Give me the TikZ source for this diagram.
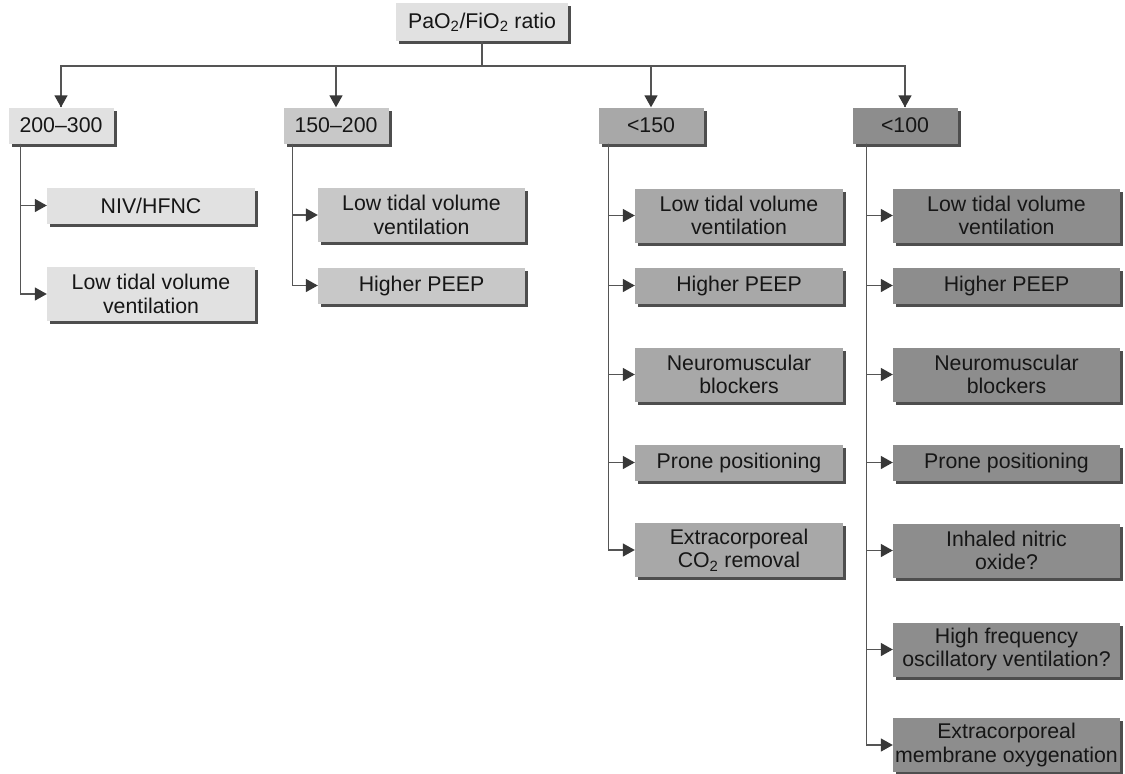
\documentclass[tikz,border=0pt]{standalone}
\usepackage{fontspec}
\setmainfont{Liberation Sans}
\usetikzlibrary{arrows.meta,shadows}
\definecolor{fillA}{HTML}{E1E1E1}
\definecolor{fillB}{HTML}{C8C8C8}
\definecolor{fillC}{HTML}{A8A8A8}
\definecolor{fillD}{HTML}{8D8D8D}
\definecolor{shd}{HTML}{4E4E4E}
\definecolor{txt}{HTML}{161616}
\definecolor{lin}{HTML}{555555}
\definecolor{tip}{HTML}{383838}
\begin{document}
\begin{tikzpicture}[x=1pt,y=-1pt,
  box/.style={draw=none, align=center, inner sep=0pt, minimum height=36pt,
    text=txt, font=\fontsize{21.3}{23.5}\selectfont,
    drop shadow={shadow xshift=3pt,shadow yshift=-3pt,fill=shd,opacity=1}},
  two/.style={minimum height=54pt},
  lvl/.style={minimum width=105pt},
  colA/.style={box, fill=fillA, minimum width=208pt},
  colB/.style={box, fill=fillB, minimum width=207pt},
  colC/.style={box, fill=fillC, minimum width=208pt},
  colD/.style={box, fill=fillD, minimum width=227pt},
  conn/.style={draw=lin, line width=1.5pt},
  arr/.style={conn, -{Triangle[length=12pt,width=13pt,color=tip]}}
]
\useasboundingbox (0,0) rectangle (1125,774);

% top
\node[box, fill=fillA, minimum width=172pt, minimum height=38pt] (top) at (482,22) {PaO\textsubscript{2}/FiO\textsubscript{2} ratio};

% level 1
\node[box, lvl, fill=fillA] (a) at (61,125.5) {200–300};
\node[box, lvl, fill=fillB] (b) at (336,125.5) {150–200};
\node[box, lvl, fill=fillC] (c) at (651,125.5) {<150};
\node[box, lvl, fill=fillD] (d) at (905,125.5) {<100};

% column A
\node[colA] (a1) at (151,205.5) {NIV/HFNC};
\node[colA, two] (a2) at (151,294) {Low tidal volume\\ventilation};

% column B
\node[colB, two] (b1) at (421.5,215) {Low tidal volume\\ventilation};
\node[colB] (b2) at (421.5,285.5) {Higher PEEP};

% column C
\node[colC, two] (c1) at (739,215.5) {Low tidal volume\\ventilation};
\node[colC] (c2) at (739,285.5) {Higher PEEP};
\node[colC, two] (c3) at (739,374.5) {Neuromuscular\\blockers};
\node[colC] (c4) at (739,462.5) {Prone positioning};
\node[colC, two] (c5) at (739,550) {Extracorporeal\\CO\textsubscript{2} removal};

% column D
\node[colD, two] (d1) at (1006.5,215.5) {Low tidal volume\\ventilation};
\node[colD] (d2) at (1006.5,285.5) {Higher PEEP};
\node[colD, two] (d3) at (1006.5,374.5) {Neuromuscular\\blockers};
\node[colD] (d4) at (1006.5,462.5) {Prone positioning};
\node[colD, two] (d5) at (1006.5,550.5) {Inhaled nitric\\oxide?};
\node[colD, two] (d6) at (1006.5,649.5) {High frequency\\oscillatory ventilation?};
\node[colD, two] (d7) at (1006.5,745) {Extracorporeal\\membrane oxygenation};

% top connectors
\draw[conn] (top.south) -- ++(0,25) coordinate (hub);
\draw[conn] (hub) -| (a.north);
\draw[conn] (hub) -| (d.north);
\foreach \n in {a,b,c,d} \draw[arr] (\n.north |- hub) -- (\n.north);

% column connectors
\foreach \n in {a1,a2} \draw[arr] ([xshift=12pt]a.south west) |- (\n.west);
\foreach \n in {b1,b2} \draw[arr] ([xshift=9pt]b.south west) |- (\n.west);
\foreach \n in {c1,c2,c3,c4,c5} \draw[arr] ([xshift=10pt]c.south west) |- (\n.west);
\foreach \n in {d1,d2,d3,d4,d5,d6,d7} \draw[arr] ([xshift=14pt]d.south west) |- (\n.west);
\end{tikzpicture}
\end{document}
